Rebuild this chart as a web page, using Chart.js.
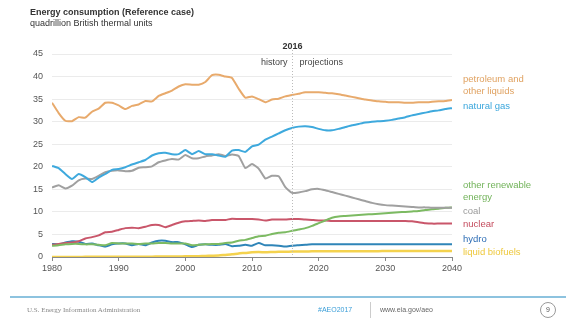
<!DOCTYPE html>
<html>
<head>
<meta charset="utf-8">
<script src="https://cdn.jsdelivr.net/npm/chart.js@4"></script>
<style>
  html, body { margin: 0; padding: 0; background: #fff; }
  #wrap { position: relative; width: 566px; height: 323px; overflow: hidden; font-family: "Liberation Sans", Arial, sans-serif; }
  #chart { position: absolute; left: 0; top: 0; }
  .title { position: absolute; left: 30px; top: 7px; font-size: 9px; font-weight: bold; color: #333; }
  .sub { position: absolute; left: 30px; top: 18px; font-size: 9px; color: #333; }
  .rule { position: absolute; left: 10px; right: 0; top: 296px; height: 2px; background: #8dc3df; }
  .foot { position: absolute; top: 306px; font-size: 7px; color: #888; }
  .eia { left: 27px; font-family: "Liberation Serif", serif; }
  .tag { left: 318px; color: #3b9ed8; }
  .sep { position: absolute; left: 370px; top: 302px; width: 1px; height: 16px; background: #ccc; }
  .url { left: 380px; color: #666; }
  .page { position: absolute; left: 540px; top: 302px; width: 14px; height: 14px; border: 1.5px solid #999; border-radius: 50%; font-size: 7px; color: #555; text-align: center; line-height: 14px; }
</style>
</head>
<body>
<div id="wrap">
  <canvas id="chart" width="566" height="323"></canvas>
  <div class="title">Energy consumption (Reference case)</div>
  <div class="sub">quadrillion British thermal units</div>
  <div class="rule"></div>
  <div class="foot eia">U.S. Energy Information Administration</div>
  <div class="foot tag">#AEO2017</div>
  <div class="sep"></div>
  <div class="foot url">www.eia.gov/aeo</div>
  <div class="page">9</div>
</div>
<script>
const years = [
  1980, 1981, 1982, 1983, 1984, 1985, 1986, 1987, 1988, 1989,
  1990, 1991, 1992, 1993, 1994, 1995, 1996, 1997, 1998, 1999,
  2000, 2001, 2002, 2003, 2004, 2005, 2006, 2007, 2008, 2009,
  2010, 2011, 2012, 2013, 2014, 2015, 2016, 2017, 2018, 2019,
  2020, 2021, 2022, 2023, 2024, 2025, 2026, 2027, 2028, 2029,
  2030, 2031, 2032, 2033, 2034, 2035, 2036, 2037, 2038, 2039, 2040
];

const petroleum = [
  34.2, 31.9, 30.2, 30.1, 31.0, 30.9, 32.2, 32.9, 34.2, 34.2,
  33.6, 32.8, 33.5, 33.8, 34.6, 34.5, 35.7, 36.3, 36.9, 37.8,
  38.3, 38.2, 38.2, 38.8, 40.3, 40.4, 40.0, 39.7, 37.3, 35.3,
  35.6, 35.0, 34.3, 34.9, 35.1, 35.6, 35.9, 36.2, 36.5, 36.5,
  36.5, 36.4, 36.3, 36.1, 35.8, 35.5, 35.2, 34.9, 34.7, 34.5,
  34.4, 34.3, 34.3, 34.2, 34.2, 34.3, 34.3, 34.4, 34.5, 34.6, 34.8
];

const naturalGas = [
  20.2, 19.7, 18.4, 17.3, 18.4, 17.7, 16.6, 17.6, 18.4, 19.3,
  19.5, 19.9, 20.5, 21.0, 21.5, 22.5, 23.0, 23.1, 22.8, 22.8,
  23.7, 22.8, 23.5, 22.8, 22.8, 22.5, 22.2, 23.6, 23.7, 23.3,
  24.5, 24.9, 26.0, 26.7, 27.4, 28.1, 28.6, 28.9, 29.0, 28.8,
  28.4, 28.1, 28.1, 28.4, 28.8, 29.2, 29.5, 29.8, 30.0, 30.1,
  30.2, 30.4, 30.7, 31.0, 31.4, 31.7, 32.0, 32.3, 32.5, 32.8, 33.0
];

const coal = [
  15.4, 15.9, 15.2, 15.8, 17.0, 17.4, 17.3, 18.0, 18.8, 19.1,
  19.2, 19.0, 19.1, 19.8, 19.9, 20.1, 21.0, 21.4, 21.7, 21.6,
  22.6, 21.9, 21.9, 22.3, 22.5, 22.8, 22.4, 22.7, 22.4, 19.7,
  20.6, 19.6, 17.4, 18.0, 17.9, 15.5, 14.2, 14.3, 14.6, 15.0,
  15.1, 14.8, 14.4, 14.0, 13.6, 13.2, 12.8, 12.4, 12.0, 11.7,
  11.5, 11.4, 11.3, 11.2, 11.1, 11.0, 11.0, 10.9, 10.9, 10.9, 10.9
];

const otherRenewable = [
  2.5, 2.6, 2.8, 2.9, 2.9, 2.8, 2.8, 2.7, 2.6, 3.1,
  3.0, 3.0, 3.0, 2.9, 3.0, 3.0, 3.1, 3.1, 3.0, 3.0,
  3.0, 2.6, 2.7, 2.8, 2.9, 2.9, 3.1, 3.2, 3.6, 3.8,
  4.2, 4.6, 4.7, 5.1, 5.4, 5.5, 5.8, 6.1, 6.4, 6.9,
  7.5, 8.1, 8.7, 9.0, 9.1, 9.2, 9.3, 9.4, 9.5, 9.6,
  9.7, 9.8, 9.9, 10.0, 10.1, 10.2, 10.4, 10.6, 10.7, 10.9, 11.0
];

const nuclear = [
  2.7, 2.9, 3.1, 3.2, 3.5, 4.1, 4.4, 4.8, 5.5, 5.6,
  6.0, 6.4, 6.5, 6.4, 6.7, 7.1, 7.1, 6.6, 7.1, 7.6,
  7.9, 8.0, 8.1, 8.0, 8.2, 8.2, 8.2, 8.5, 8.4, 8.4,
  8.4, 8.3, 8.1, 8.3, 8.3, 8.3, 8.4, 8.4, 8.3, 8.2,
  8.1, 8.1, 8.0, 8.0, 8.0, 8.0, 8.0, 8.0, 8.0, 8.0,
  8.0, 8.0, 8.0, 8.0, 7.9, 7.7, 7.5, 7.4, 7.4, 7.4, 7.4
];

const hydro = [
  2.9, 2.8, 3.2, 3.5, 3.4, 2.9, 3.0, 2.6, 2.3, 2.8,
  3.0, 3.0, 2.6, 2.9, 2.6, 3.2, 3.6, 3.6, 3.3, 3.3,
  2.8, 2.2, 2.7, 2.8, 2.7, 2.7, 2.9, 2.4, 2.5, 2.7,
  2.5, 3.1, 2.6, 2.6, 2.5, 2.3, 2.5, 2.6, 2.7, 2.8,
  2.8, 2.8, 2.8, 2.8, 2.8, 2.8, 2.8, 2.8, 2.8, 2.8,
  2.8, 2.8, 2.8, 2.8, 2.8, 2.8, 2.8, 2.8, 2.8, 2.8, 2.8
];

const liquidBiofuels = [
  0.0, 0.0, 0.0, 0.0, 0.0, 0.05, 0.05, 0.05, 0.05, 0.05,
  0.06, 0.06, 0.07, 0.07, 0.08, 0.08, 0.09, 0.09, 0.1, 0.1,
  0.14, 0.15, 0.19, 0.24, 0.29, 0.34, 0.47, 0.59, 0.8, 0.9,
  1.05, 1.1, 1.05, 1.1, 1.15, 1.17, 1.2, 1.22, 1.24, 1.25,
  1.26, 1.27, 1.27, 1.28, 1.28, 1.29, 1.29, 1.3, 1.3, 1.3,
  1.31, 1.31, 1.32, 1.32, 1.32, 1.33, 1.33, 1.34, 1.34, 1.35, 1.35
];

const yTicks = [0, 5, 10, 15, 20, 25, 30, 35, 40, 45];
const xTicks = [1980, 1990, 2000, 2010, 2020, 2030, 2040];
const splitYear = 2016;

const seriesLabels = [
  { lines: ['petroleum and', 'other liquids'], color: '#e0a261', y: 79 },
  { lines: ['natural gas'], color: '#3aa6dc', y: 106 },
  { lines: ['other renewable', 'energy'], color: '#72b35a', y: 185 },
  { lines: ['coal'], color: '#9a9a9a', y: 211 },
  { lines: ['nuclear'], color: '#c44b5d', y: 224 },
  { lines: ['hydro'], color: '#2d6db5', y: 239 },
  { lines: ['liquid biofuels'], color: '#eec83c', y: 252 }
];

const pts = arr => years.map((yr, i) => ({ x: yr, y: arr[i] }));

function line(label, arr, color, width) {
  return {
    label: label,
    data: pts(arr),
    borderColor: color,
    backgroundColor: color,
    borderWidth: width || 2,
    pointRadius: 0,
    tension: 0.15,
    fill: false
  };
}

const annotations = {
  id: 'annotations',
  afterDatasetsDraw(chart) {
    const ctx = chart.ctx;
    const xs = chart.scales.x;
    const area = chart.chartArea;
    const px = Math.round(xs.getPixelForValue(splitYear)) + 0.5;
    ctx.save();
    ctx.strokeStyle = '#bbb';
    ctx.lineWidth = 1;
    ctx.setLineDash([1, 2]);
    ctx.beginPath();
    ctx.moveTo(px, 50);
    ctx.lineTo(px, area.bottom);
    ctx.stroke();
    ctx.setLineDash([]);
    ctx.fillStyle = '#333';
    ctx.font = 'bold 9px "Liberation Sans", Arial, sans-serif';
    ctx.textAlign = 'center';
    ctx.textBaseline = 'middle';
    ctx.fillText(String(splitYear), px, 47);
    ctx.font = '9px "Liberation Sans", Arial, sans-serif';
    ctx.fillStyle = '#444';
    ctx.textAlign = 'right';
    ctx.fillText('history', px - 5, 63);
    ctx.textAlign = 'left';
    ctx.fillText('projections', px + 7, 63);
    ctx.font = '9.5px "Liberation Sans", Arial, sans-serif';
    seriesLabels.forEach(s => {
      ctx.fillStyle = s.color;
      s.lines.forEach((t, i) => ctx.fillText(t, area.right + 11, s.y + i * 12.5));
    });
    ctx.restore();
  }
};

new Chart(document.getElementById('chart'), {
  type: 'line',
  data: {
    datasets: [
      line('petroleum and other liquids', petroleum, '#e8aa6c'),
      line('natural gas', naturalGas, '#3ea9dd'),
      line('coal', coal, '#a0a0a0'),
      line('other renewable energy', otherRenewable, '#7cba62'),
      line('nuclear', nuclear, '#c9566a'),
      line('hydro', hydro, '#2f85b8'),
      line('liquid biofuels', liquidBiofuels, '#f4d24e', 2.5)
    ]
  },
  options: {
    responsive: false,
    animation: false,
    layout: { padding: { left: 0, right: 114, top: 54, bottom: 46 } },
    plugins: { legend: { display: false }, tooltip: { enabled: false } },
    scales: {
      x: {
        type: 'linear',
        min: 1980,
        max: 2040,
        afterFit: s => { s.height = 20; },
        afterBuildTicks: s => { s.ticks = xTicks.map(v => ({ value: v })); },
        grid: { drawOnChartArea: false, drawTicks: true, tickLength: 4, color: '#888' },
        border: { color: '#888', width: 1 },
        ticks: { color: '#555', font: { size: 9, family: '"Liberation Sans", Arial, sans-serif' }, padding: 2, maxRotation: 0, callback: v => String(v) }
      },
      y: {
        min: 0,
        max: 45,
        afterFit: s => { s.width = 52; },
        afterBuildTicks: s => { s.ticks = yTicks.map(v => ({ value: v })); },
        grid: { color: '#ebebeb', drawTicks: false },
        border: { display: false },
        ticks: { color: '#555', font: { size: 9, family: '"Liberation Sans", Arial, sans-serif' }, padding: 9 }
      }
    }
  },
  plugins: [annotations]
});
</script>
</body>
</html>
